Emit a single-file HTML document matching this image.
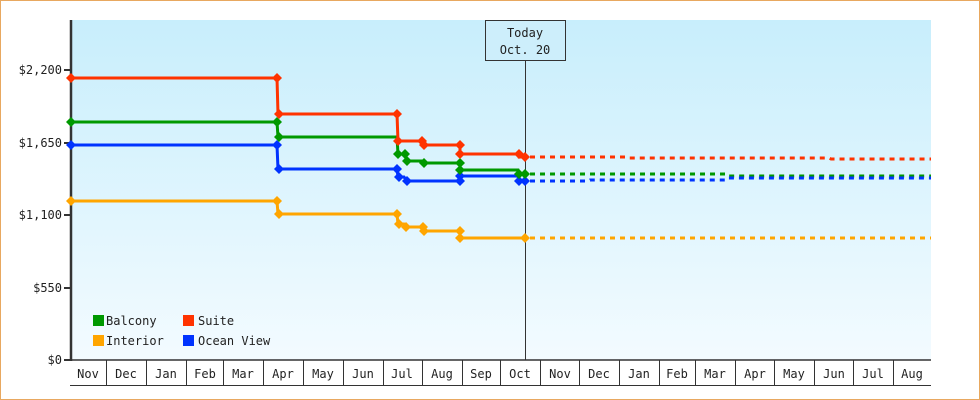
<!DOCTYPE html>
<html><head><meta charset="utf-8"><style>
html,body{margin:0;padding:0;background:#fff}
svg{display:block}
text{font-family:"DejaVu Sans Mono","Liberation Mono",monospace;font-size:12px;fill:#222}
</style></head><body>
<svg width="980" height="400" viewBox="0 0 980 400" xmlns="http://www.w3.org/2000/svg">
<defs><linearGradient id="bg" x1="0" y1="0" x2="0" y2="1"><stop offset="0" stop-color="#c8eefc"/><stop offset="1" stop-color="#f3fbff"/></linearGradient>
<path id="d" d="M0,-5l5,5l-5,5l-5,-5z"/></defs>
<rect x="0.5" y="0.5" width="979" height="399" fill="#fff" stroke="#e8a860"/>
<rect x="71" y="20" width="860" height="340" fill="url(#bg)"/>
<line x1="71" y1="20" x2="71" y2="361" stroke="#333" stroke-width="2.5"/>
<line x1="71" y1="360" x2="931" y2="360" stroke="#333" stroke-width="1.5"/>
<g stroke="#333" stroke-width="2">
<line x1="64" y1="70" x2="71" y2="70"/><line x1="64" y1="143" x2="71" y2="143"/><line x1="64" y1="215" x2="71" y2="215"/><line x1="64" y1="288" x2="71" y2="288"/><line x1="64" y1="360" x2="71" y2="360"/></g>
<g text-anchor="end"><text x="62" y="74">$2,200</text><text x="62" y="147">$1,650</text><text x="62" y="219">$1,100</text><text x="62" y="292">$550</text><text x="62" y="364">$0</text></g>
<g stroke="#333" stroke-width="1">
<line x1="70" y1="385.5" x2="931" y2="385.5"/>
<line x1="106.5" y1="360" x2="106.5" y2="385"/><line x1="146.5" y1="360" x2="146.5" y2="385"/><line x1="186.5" y1="360" x2="186.5" y2="385"/><line x1="223.5" y1="360" x2="223.5" y2="385"/><line x1="263.5" y1="360" x2="263.5" y2="385"/><line x1="303.5" y1="360" x2="303.5" y2="385"/><line x1="343.5" y1="360" x2="343.5" y2="385"/><line x1="383.5" y1="360" x2="383.5" y2="385"/><line x1="422.5" y1="360" x2="422.5" y2="385"/><line x1="462.5" y1="360" x2="462.5" y2="385"/><line x1="500.5" y1="360" x2="500.5" y2="385"/><line x1="540.5" y1="360" x2="540.5" y2="385"/><line x1="579.5" y1="360" x2="579.5" y2="385"/><line x1="619.5" y1="360" x2="619.5" y2="385"/><line x1="659.5" y1="360" x2="659.5" y2="385"/><line x1="695.5" y1="360" x2="695.5" y2="385"/><line x1="735.5" y1="360" x2="735.5" y2="385"/><line x1="774.5" y1="360" x2="774.5" y2="385"/><line x1="814.5" y1="360" x2="814.5" y2="385"/><line x1="853.5" y1="360" x2="853.5" y2="385"/><line x1="893.5" y1="360" x2="893.5" y2="385"/>
</g>
<g text-anchor="middle">
<text x="88" y="378">Nov</text><text x="126" y="378">Dec</text><text x="166" y="378">Jan</text><text x="205" y="378">Feb</text><text x="243" y="378">Mar</text><text x="283" y="378">Apr</text><text x="323" y="378">May</text><text x="363" y="378">Jun</text><text x="402" y="378">Jul</text><text x="442" y="378">Aug</text><text x="481" y="378">Sep</text><text x="520" y="378">Oct</text><text x="560" y="378">Nov</text><text x="599" y="378">Dec</text><text x="639" y="378">Jan</text><text x="677" y="378">Feb</text><text x="715" y="378">Mar</text><text x="755" y="378">Apr</text><text x="794" y="378">May</text><text x="834" y="378">Jun</text><text x="873" y="378">Jul</text><text x="912" y="378">Aug</text>
</g>
<line x1="525.5" y1="60" x2="525.5" y2="360" stroke="#333" stroke-width="1"/>
<rect x="485.5" y="20.5" width="80" height="40" fill="#cdeefb" stroke="#333"/>
<text x="525" y="37" text-anchor="middle">Today</text>
<text x="525" y="54" text-anchor="middle">Oct. 20</text>
<g fill="none" stroke-width="3" stroke-dasharray="5,5">
<polyline stroke="#ff3300" points="530,157 625,157 627,158 829,158 831,159 931,159"/>
<polyline stroke="#009900" points="530,174 725,174 727,176 931,176"/>
<polyline stroke="#0033ff" points="530,181 588,181 590,180 725,180 727,178 931,178"/>
<polyline stroke="#ffa500" points="530,238 931,238"/>
</g>
<g fill="none" stroke-width="3">
<polyline stroke="#ffa500" points="71,201 277,201 278,214 397,214 398,224 404,224 407,227 422,227 424,231 460,231 460,238 524,238"/>
<polyline stroke="#0033ff" points="71,145 277,145 278,169 397,169 398,177 404,177 407,181 460,181 460,176 518,176 519,181 524,181"/>
<polyline stroke="#009900" points="71,122 277,122 278,137 397,137 398,154 405,154 407,161 422,161 424,163 460,163 460,170 518,170 519,174 524,174"/>
<polyline stroke="#ff3300" points="71,78 277,78 278,114 397,114 398,141 422,141 424,145 460,145 460,154 518,154 519,157 524,157"/>
</g>
<g fill="#ffa500"><use href="#d" x="71" y="201"/><use href="#d" x="277" y="201"/><use href="#d" x="279" y="214"/><use href="#d" x="397" y="214"/><use href="#d" x="399" y="224"/><use href="#d" x="406" y="227"/><use href="#d" x="423" y="227"/><use href="#d" x="424" y="231"/><use href="#d" x="460" y="231"/><use href="#d" x="460" y="238"/><use href="#d" x="525" y="238"/></g>
<g fill="#0033ff"><use href="#d" x="71" y="145"/><use href="#d" x="277" y="145"/><use href="#d" x="279" y="169"/><use href="#d" x="397" y="169"/><use href="#d" x="399" y="177"/><use href="#d" x="407" y="181"/><use href="#d" x="460" y="181"/><use href="#d" x="460" y="176"/><use href="#d" x="519" y="181"/><use href="#d" x="525" y="181"/></g>
<g fill="#009900"><use href="#d" x="71" y="122"/><use href="#d" x="277" y="122"/><use href="#d" x="279" y="137"/><use href="#d" x="398" y="154"/><use href="#d" x="405" y="154"/><use href="#d" x="407" y="161"/><use href="#d" x="424" y="163"/><use href="#d" x="460" y="163"/><use href="#d" x="460" y="170"/><use href="#d" x="519" y="174"/><use href="#d" x="525" y="174"/></g>
<g fill="#ff3300"><use href="#d" x="71" y="78"/><use href="#d" x="277" y="78"/><use href="#d" x="279" y="114"/><use href="#d" x="397" y="114"/><use href="#d" x="398" y="141"/><use href="#d" x="422" y="141"/><use href="#d" x="424" y="145"/><use href="#d" x="460" y="145"/><use href="#d" x="460" y="154"/><use href="#d" x="519" y="154"/><use href="#d" x="525" y="157"/></g>
<rect x="93" y="315" width="11" height="11" fill="#009900"/><text x="106" y="325">Balcony</text>
<rect x="183" y="315" width="11" height="11" fill="#ff3300"/><text x="198" y="325">Suite</text>
<rect x="93" y="335" width="11" height="11" fill="#ffa500"/><text x="106" y="345">Interior</text>
<rect x="183" y="335" width="11" height="11" fill="#0033ff"/><text x="198" y="345">Ocean View</text>
</svg>
</body></html>
